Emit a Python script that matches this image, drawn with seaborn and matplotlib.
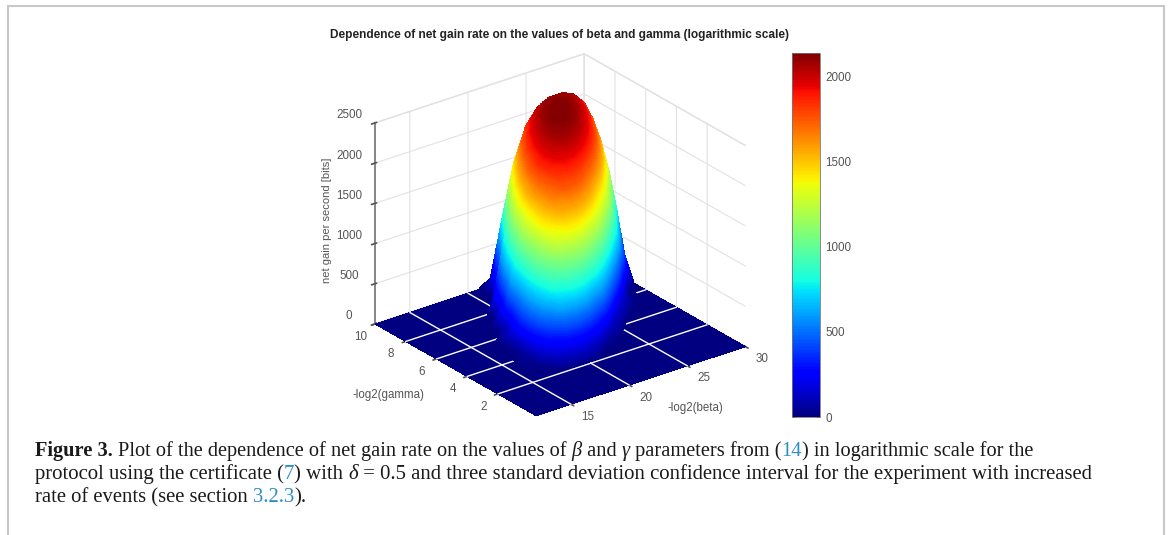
import numpy as np
import matplotlib
matplotlib.use("Agg")
import matplotlib.pyplot as plt
import seaborn as sns
from matplotlib.cm import ScalarMappable
from matplotlib.colors import Normalize
from matplotlib.lines import Line2D

sns.set_theme(style="white")
plt.rcParams['font.family'] = ['Liberation Sans', 'DejaVu Sans']
plt.rcParams['grid.color'] = '#e2e2e2'
plt.rcParams['grid.linewidth'] = 0.8

# Data
title = 'Dependence of net gain rate on the values of beta and gamma (logarithmic scale)'
beta_vals = [12, 13, 14, 15, 16, 17, 18, 19, 20, 21, 22, 23, 24, 25, 26, 27, 28, 29, 30]
gamma_vals = [-0.5, 0.025, 0.55, 1.075, 1.6, 2.125, 2.65, 3.175, 3.7, 4.225, 4.75,
              5.275, 5.8, 6.325, 6.85, 7.375, 7.9, 8.425, 8.95, 9.475, 10]
gain_rows = [
    [0] * 19,
    [0] * 19,
    [0] * 19,
    [0] * 19,
    [0] * 19,
    [0] * 19,
    [0, 0, 0, 0, 0, 0, 150, 280, 280, 140, 0, 0, 0, 0, 0, 0, 0, 0, 0],
    [0, 0, 0, 0, 0, 40, 340, 650, 750, 680, 380, 45, 0, 0, 0, 0, 0, 0, 0],
    [0, 0, 0, 0, 0, 60, 500, 860, 1020, 1040, 900, 630, 140, 0, 0, 0, 0, 0, 0],
    [0, 0, 0, 0, 0, 35, 530, 930, 1280, 1400, 1360, 1080, 730, 150, 0, 0, 0, 0, 0],
    [0, 0, 0, 0, 0, 0, 480, 950, 1380, 1570, 1610, 1510, 1240, 770, 170, 0, 0, 0, 0],
    [0, 0, 0, 0, 0, 0, 330, 880, 1400, 1650, 1770, 1750, 1600, 1290, 760, 150, 0, 0, 0],
    [0, 0, 0, 0, 0, 0, 140, 760, 1320, 1650, 1830, 1875, 1820, 1625, 1280, 720, 40, 0, 0],
    [0, 0, 0, 0, 0, 0, 0, 625, 1215, 1630, 1870, 1965, 1965, 1880, 1640, 1245, 650, 5, 0],
    [0, 0, 0, 0, 0, 0, 0, 295, 950, 1530, 1860, 2000, 2050, 2015, 1895, 1615, 1130, 480, 0],
    [0, 0, 0, 0, 0, 0, 0, 0, 710, 1355, 1770, 1985, 2085, 2090, 2035, 1875, 1530, 920, 225],
    [0, 0, 0, 0, 0, 0, 0, 0, 350, 1040, 1610, 1925, 2075, 2122, 2115, 2020, 1815, 1395, 735],
    [0, 0, 0, 0, 0, 0, 0, 0, 0, 700, 1365, 1800, 2020, 2120, 2128, 2095, 1970, 1690, 1185],
    [0, 0, 0, 0, 0, 0, 0, 0, 0, 0, 950, 1570, 1920, 2080, 2127, 2126, 2055, 1885, 1515],
    [0, 0, 0, 0, 0, 0, 0, 0, 0, 0, 450, 1255, 1725, 1980, 2095, 2125, 2095, 1985, 1730],
    [0, 0, 0, 0, 0, 0, 0, 0, 0, 0, 80, 770, 1415, 1815, 2010, 2090, 2095, 2035, 1870],
]
beta_ticks = [15, 20, 25, 30]
gamma_ticks = [2, 4, 6, 8, 10]
z_ticks = [0, 500, 1000, 1500, 2000, 2500]
cbar_ticks = [0, 500, 1000, 1500, 2000]
gain_max = 2140

W, H = 1170, 535
fig = plt.figure(figsize=(W / 100, H / 100), dpi=100, facecolor='white')
cmap = plt.get_cmap('jet')

ax = fig.add_axes([343 / W, 83 / H, 423 / W, 423 / H], projection='3d',
                  computed_zorder=False, facecolor='none')
ax.set_proj_type('ortho')
ax.view_init(elev=25.7, azim=-127.3)
ax.set_box_aspect((263, 266, 223))
ax.set_xlim(12, 30)
ax.set_ylim(-0.5, 10)
ax.set_zlim(0, 2500)

B, G = np.meshgrid(beta_vals, gamma_vals)
Z = np.array(gain_rows, dtype=float)

# floor first, then the white grid on it, then the hump over both
ax.plot_surface(B, G, np.zeros_like(Z), color=cmap(0.0), shade=False,
                linewidth=0, antialiased=False, zorder=1)
for t in beta_ticks[:-1]:
    ax.plot([t, t], [-0.5, 10], [0, 0], color='white', lw=1.0, zorder=2)
for t in gamma_ticks[:-1]:
    ax.plot([12, 30], [t, t], [0, 0], color='white', lw=1.0, zorder=2)

# stacked thin contour layers give the smooth colour run of the hump
hump = ax.contourf(B, G, Z, levels=np.arange(4, 2140, 16), cmap=cmap, vmin=0, vmax=gain_max, zorder=3)
hump.set_edgecolor('face')
hump.set_linewidth(1.5)

ax.set_xticks(beta_ticks)
ax.set_yticks(gamma_ticks)
ax.set_zticks(z_ticks)
ax.zaxis.set_ticks_position('upper')
ax.tick_params(labelsize=8.4, colors='#555555')
ax.xaxis.set_tick_params(pad=2)
ax.yaxis.set_tick_params(pad=3)
ax.zaxis.set_tick_params(pad=3)
plt.setp(ax.get_xticklabels(), ha='left', va='bottom')
plt.setp(ax.get_yticklabels(), va='bottom')
plt.setp(ax.get_zticklabels(), va='bottom')
for a in (ax.xaxis, ax.yaxis, ax.zaxis):
    a.set_pane_color((1, 1, 1, 1))
    a.pane.set_edgecolor('#e2e2e2')
ax.xaxis.line.set_color('none')
ax.yaxis.line.set_color('none')
ax.zaxis.line.set_color('#777777')

fig.text(560 / W, 1 - 35 / H, title, ha='center', va='center', fontsize=8.6,
         fontweight='bold', color='#222222')
fig.text(695 / W, 1 - 408 / H, '-log2(beta)', ha='center', va='center', fontsize=8.3, color='#555555')
fig.text(388 / W, 1 - 395 / H, '-log2(gamma)', ha='center', va='center', fontsize=8.3, color='#555555')
fig.text(327 / W, 1 - 220 / H, 'net gain per second [bits]', rotation=90, ha='center', va='center',
         fontsize=8, color='#555555')

cax = fig.add_axes([792 / W, 1 - 417 / H, 28 / W, 364 / H])
cb = fig.colorbar(ScalarMappable(Normalize(0, gain_max), cmap), cax=cax)
cb.set_ticks(cbar_ticks)
cb.ax.tick_params(labelsize=8.4, colors='#555555', direction='in', length=3, width=0.6, right=True, left=True, pad=4)
cb.outline.set_edgecolor('#777777')
cb.outline.set_linewidth(0.6)

# page frame
for xs, ys in [([8, 8], [5.5, 535]), ([1164, 1164], [5.5, 535]), ([8, 1164], [5.5, 5.5])]:
    fig.add_artist(Line2D([x / W for x in xs], [1 - y / H for y in ys], color='#c8c8c8', lw=1.5))

# caption, piece by piece so colours and fonts can change within a line
BLUE = '#2a8fc4'
caption = [
    (456, 14.7, [('Figure 3. ', 'k', 'bold', 'normal'),
           ('Plot of the dependence of net gain rate on the values of ', 'k', 'normal', 'normal'),
           ('β', 'k', 'normal', 'italic'), (' and ', 'k', 'normal', 'normal'), ('γ', 'k', 'normal', 'italic'),
           (' parameters from (', 'k', 'normal', 'normal'), ('14', BLUE, 'normal', 'normal'),
           (') in logarithmic scale for the', 'k', 'normal', 'normal')]),
    (479, 14.95, [('protocol using the certificate (', 'k', 'normal', 'normal'), ('7', BLUE, 'normal', 'normal'),
           (') with ', 'k', 'normal', 'normal'), ('δ', 'k', 'normal', 'italic'),
           (' = 0.5 and three standard deviation confidence interval for the experiment with increased', 'k', 'normal', 'normal')]),
    (502, 14.9, [('rate of events (see section ', 'k', 'normal', 'normal'), ('3.2.3', BLUE, 'normal', 'normal'),
           (').', 'k', 'normal', 'normal')]),
]
renderer = fig.canvas.get_renderer()
for y, size, pieces in caption:
    x = 35
    for s, col, weight, style in pieces:
        t = fig.text(x / W, 1 - y / H, s, color=col, fontweight=weight, fontstyle=style,
                     fontsize=size, family='Liberation Serif', va='baseline', ha='left')
        x += t.get_window_extent(renderer).width

fig.savefig('out.png', dpi=100)
